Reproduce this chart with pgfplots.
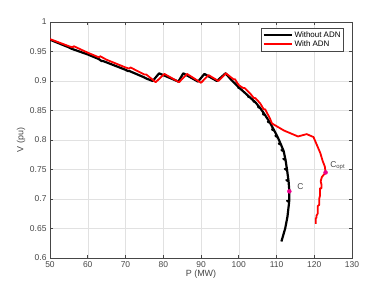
\documentclass[border=0pt]{standalone}
\usepackage{pgfplots}
\pgfplotsset{compat=1.18}
\usepackage{fontspec}
\setmainfont{Liberation Sans}
\definecolor{axgray}{RGB}{70,70,70}
\definecolor{gridgray}{RGB}{225,225,225}
\begin{document}
\begin{tikzpicture}[x=1bp,y=1bp]
\begin{axis}[
  name=ax,
  scale only axis,
  width=302bp, height=236bp,
  xmin=50, xmax=130, ymin=0.6, ymax=1,
  xtick={50,60,...,130},
  ytick={0.6,0.65,...,1.0},
  yticklabel style={/pgf/number format/fixed,/pgf/number format/precision=2},
  /pgf/number format/assume math mode=true,
  grid=major,
  major grid style={gridgray, line width=0.5pt},
  axis line style={axgray, line width=0.6pt},
  tick style={axgray, line width=0.6pt},
  major tick length=3bp,
  tick align=inside,
  xtick pos=both, ytick pos=both,
  ticklabel style={font=\fontsize{8.5}{10}\selectfont, text=axgray},
  xlabel={P (MW)}, ylabel={V (pu)},
  label style={font=\fontsize{9}{11}\selectfont, text=axgray},
  xlabel style={yshift=4bp},
  ylabel style={yshift=-2bp},
  legend style={at={(rel axis cs:0.973,0.974)}, anchor=north east,
    font=\fontsize{8}{9}\selectfont, draw=axgray, line width=0.6pt,
    inner sep=1pt, row sep=-2pt, legend cell align=left},
  legend image code/.code={\draw[#1,line width=2pt] (0bp,0bp) -- (28bp,0bp);},
]
\addplot[black, line width=2.2pt, line join=round] coordinates {
(50,0.970) (55,0.957) (55.6,0.955) (56,0.954) (60,0.945) (63,0.937) (63.6,0.934) (64,0.934) (70,0.919) (70.6,0.917) (71,0.917) (75,0.906) (75.6,0.904) (77.2,0.900)
(78.9,0.913) (84.0,0.899) (85.3,0.913) (89.2,0.899) (90.9,0.912) (94.2,0.900) (96.5,0.913)
(98.0,0.902) (100.4,0.887) (99.8,0.889) (100.4,0.887) (103.0,0.872) (102.4,0.874) (103.0,0.872)
(104.4,0.864) (103.8,0.866) (104.4,0.864) (105.7,0.854) (105.1,0.856) (105.7,0.854)
(107.0,0.842) (106.4,0.844) (107.0,0.842) (108.3,0.829) (107.7,0.831) (108.3,0.829)
(109.4,0.816) (108.8,0.818) (109.4,0.816) (110.3,0.805) (109.7,0.807) (110.3,0.805)
(111.2,0.792) (110.6,0.794) (111.2,0.792) (111.9,0.781) (111.3,0.783) (111.9,0.781)
(112.4,0.766) (111.8,0.768) (112.4,0.766) (112.8,0.749) (112.2,0.751) (112.8,0.749)
(113.2,0.730) (112.6,0.732) (113.2,0.730) (113.4,0.713) (113.35,0.695) (112.8,0.697) (113.35,0.695)
(112.9,0.670) (112.3,0.650) (111.3,0.628)
};
\addlegendentry{Without ADN}
\addplot[red, line width=1.8pt, line join=round] coordinates {
(50,0.971) (55,0.959) (56,0.957) (56.3,0.959) (60,0.948) (63,0.940) (63.3,0.942) (65,0.936) (70,0.923) (71,0.921) (71.3,0.923) (75,0.911) (75.5,0.911) (78.0,0.898)
(80.3,0.912) (84.2,0.898) (86.3,0.912) (90.0,0.897) (92.0,0.910) (94.6,0.900) (96.6,0.913)
(98.6,0.903) (99.0,0.903) (100.0,0.893) (101.2,0.888) (101.6,0.888) (103.0,0.879) (104.0,0.871) (104.4,0.871)
(105.7,0.862) (106.6,0.852) (107.0,0.852) (108.3,0.836) (108.8,0.828)
(112.0,0.816) (115.7,0.806) (118.0,0.810) (119.8,0.805) (120.8,0.790) (121.6,0.778) (122.2,0.765) (122.8,0.755) (123.0,0.745)
(122.0,0.737) (121.7,0.730) (121.9,0.725) (121.9,0.718) (121.5,0.718) (121.5,0.705) (121.3,0.700) (121.3,0.690) (120.9,0.688)
(120.9,0.675) (120.6,0.672) (120.6,0.668) (120.4,0.668) (120.4,0.658)
};
\addlegendentry{With ADN}
\addplot[only marks, mark=*, mark size=2pt, color=magenta, forget plot] coordinates {(113.4,0.713) (123.0,0.745)};
\node[font=\fontsize{8.5}{10}\selectfont, text=axgray, anchor=west] at (axis cs:114.6,0.721) {C};
\node[font=\fontsize{8.5}{10}\selectfont, text=axgray, anchor=west, inner sep=0pt] at (axis cs:124.2,0.757) {C\textsubscript{opt}};
\end{axis}
\pgfresetboundingbox
\path ([xshift=-50bp,yshift=-33bp]ax.south west) rectangle ([xshift=36bp,yshift=22bp]ax.north east);
\end{tikzpicture}
\end{document}
